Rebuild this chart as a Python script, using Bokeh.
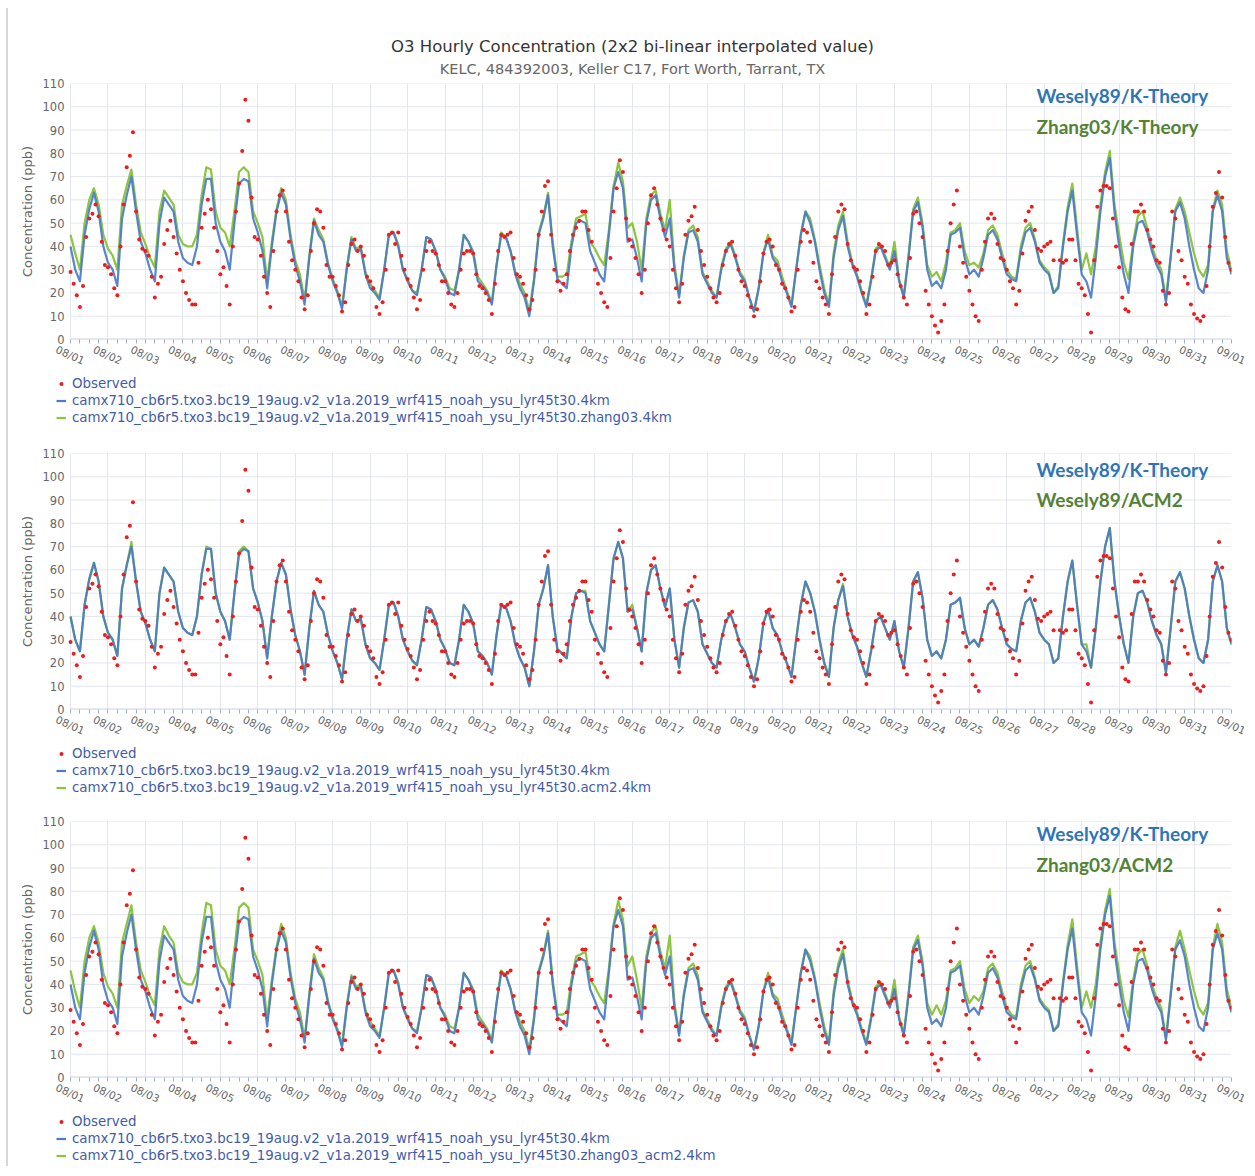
from bokeh.plotting import figure
from bokeh.models import Range1d, FixedTicker, Legend, LegendItem, Label
from bokeh.layouts import column
from bokeh.embed import file_html
from bokeh.resources import INLINE

NAN = float("nan")

TITLE = "O3 Hourly Concentration (2x2 bi-linear interpolated value)"
SUBTITLE = "KELC, 484392003, Keller C17, Fort Worth, Tarrant, TX"
Y_TITLE = "Concentration (ppb)"

DATE_LABELS = ["08/01", "08/02", "08/03", "08/04", "08/05", "08/06", "08/07", "08/08",
               "08/09", "08/10", "08/11", "08/12", "08/13", "08/14", "08/15", "08/16",
               "08/17", "08/18", "08/19", "08/20", "08/21", "08/22", "08/23", "08/24",
               "08/25", "08/26", "08/27", "08/28", "08/29", "08/30", "08/31", "09/01"]
Y_TICKS = [0, 10, 20, 30, 40, 50, 60, 70, 80, 90, 100, 110]

MODEL_STEP_HOURS = 3
OBS_STEP_HOURS = 2

# Wesely89 / K-Theory (base run), every 3 hours from 08/01 00h
WES_KT = [
    40, 30, 25, 45, 56, 63, 55, 40,
    33, 30, 23, 52, 62, 70, 55, 42,
    37, 30, 25, 50, 61, 58, 55, 42,
    35, 33, 32, 40, 58, 69, 69, 50,
    42, 38, 30, 50, 67, 69, 68, 52,
    46, 38, 22, 40, 55, 63, 58, 43,
    32, 25, 15, 35, 51, 45, 42, 32,
    25, 20, 13, 30, 43, 38, 39, 28,
    22, 20, 17, 30, 45, 46, 40, 30,
    25, 21, 19, 30, 44, 43, 38, 30,
    26, 20, 19, 30, 45, 42, 37, 25,
    23, 20, 15, 32, 45, 44, 38, 28,
    22, 18, 10, 25, 45, 52, 62, 40,
    26, 24, 22, 40, 50, 51, 50, 38,
    33, 28, 25, 45, 65, 72, 65, 42,
    43, 35, 25, 50, 60, 62, 52, 44,
    52, 30, 18, 35, 46, 47, 42, 28,
    24, 20, 18, 30, 38, 41, 35, 28,
    25, 18, 12, 22, 37, 43, 35, 32,
    25, 20, 14, 30, 45, 55, 50, 42,
    30, 20, 14, 35, 47, 53, 40, 32,
    27, 20, 14, 25, 38, 40, 35, 30,
    38, 25, 18, 35, 55, 59, 48, 30,
    23, 25, 22, 30, 45, 46, 48, 35,
    28, 30, 27, 35, 45, 47, 43, 35,
    28, 26, 25, 38, 46, 48, 42, 33,
    30, 28, 20, 22, 40, 55, 64, 45,
    28, 25, 18, 35, 55, 70, 78, 55,
    40, 28, 20, 40, 50, 51, 46, 38,
    32, 28, 16, 35, 55, 59, 52, 40,
    30, 22, 20, 30, 55, 62, 55, 35,
    28,
]

# Zhang03 / K-Theory
ZHANG03_KT = [
    45, 37, 30, 50, 60, 65, 58, 45,
    39, 36, 30, 58, 66, 73, 58, 46,
    41, 35, 31, 55, 64, 61, 58, 45,
    41, 40, 40, 45, 62, 74, 73, 55,
    48, 46, 40, 55, 72, 74, 72, 55,
    50, 44, 25, 42, 56, 65, 60, 45,
    34, 28, 17, 36, 52, 47, 43, 33,
    26, 21, 14, 31, 44, 39, 40, 29,
    24, 21, 18, 30, 45, 46, 41, 30,
    26, 21, 20, 30, 44, 43, 38, 30,
    27, 22, 21, 30, 45, 42, 38, 27,
    24, 21, 16, 32, 46, 44, 38, 29,
    24, 20, 12, 26, 46, 53, 63, 42,
    27, 27, 28, 42, 52, 53, 54, 42,
    39, 35, 32, 47, 66, 76, 68, 48,
    50, 42, 30, 52, 62, 64, 54, 47,
    60, 32, 19, 36, 47, 49, 44, 29,
    25, 21, 18, 31, 39, 42, 36, 29,
    26, 18, 12, 22, 37, 45, 36, 34,
    27, 21, 15, 30, 45, 55, 52, 43,
    32, 22, 15, 37, 49, 55, 42, 33,
    28, 21, 15, 26, 39, 41, 36, 31,
    42, 26, 19, 36, 56, 61, 50, 32,
    27, 29, 25, 33, 46, 47, 50, 38,
    32, 33, 31, 37, 47, 49, 45, 37,
    30, 27, 26, 40, 48, 50, 43, 34,
    31, 29, 20, 23, 41, 57, 67, 48,
    30, 37, 28, 40, 58, 72, 81, 58,
    45, 33, 26, 42, 53, 55, 48, 40,
    34, 30, 17, 36, 56, 61, 55, 46,
    37, 30, 27, 32, 56, 64, 58, 38,
    30,
]

# Wesely89 / ACM2
WES_ACM2 = [
    40, 30, 25, 45, 56, 63, 55, 40,
    33, 30, 23, 52, 62, 72, 55, 42,
    37, 30, 25, 50, 61, 58, 55, 42,
    35, 33, 32, 40, 58, 70, 69, 50,
    42, 38, 30, 50, 68, 70, 68, 52,
    46, 38, 22, 40, 55, 63, 58, 43,
    32, 25, 15, 35, 51, 45, 42, 32,
    25, 20, 13, 30, 43, 38, 39, 28,
    22, 20, 17, 30, 45, 46, 40, 30,
    25, 21, 19, 30, 44, 43, 38, 30,
    26, 20, 19, 30, 45, 42, 37, 25,
    23, 20, 15, 32, 45, 44, 38, 28,
    22, 18, 10, 25, 45, 52, 62, 40,
    26, 24, 22, 40, 50, 51, 51, 38,
    33, 28, 25, 45, 65, 72, 65, 42,
    45, 35, 25, 50, 60, 62, 52, 44,
    52, 30, 18, 35, 46, 47, 42, 28,
    24, 20, 18, 30, 38, 41, 35, 28,
    25, 18, 12, 22, 37, 43, 35, 32,
    25, 20, 14, 30, 45, 55, 50, 42,
    30, 20, 14, 35, 47, 54, 40, 32,
    27, 20, 14, 25, 38, 40, 35, 30,
    38, 25, 18, 35, 55, 59, 48, 30,
    23, 25, 22, 30, 45, 46, 48, 35,
    28, 30, 27, 35, 45, 47, 43, 35,
    28, 26, 25, 38, 46, 48, 42, 33,
    30, 28, 20, 22, 40, 55, 64, 45,
    28, 28, 18, 35, 55, 70, 78, 55,
    40, 28, 20, 40, 50, 51, 46, 38,
    32, 28, 16, 35, 55, 59, 52, 40,
    30, 22, 20, 30, 55, 62, 55, 35,
    28,
]

# Zhang03 / ACM2
ZHANG03_ACM2 = [
    46, 37, 30, 50, 60, 65, 58, 45,
    39, 36, 30, 58, 66, 74, 58, 46,
    41, 35, 31, 55, 65, 61, 58, 45,
    41, 40, 40, 45, 62, 75, 74, 55,
    48, 46, 40, 55, 73, 75, 73, 55,
    50, 44, 25, 42, 56, 66, 60, 45,
    34, 28, 17, 36, 53, 47, 43, 33,
    26, 21, 14, 31, 44, 39, 40, 29,
    24, 21, 18, 30, 45, 46, 41, 30,
    26, 21, 20, 30, 44, 43, 38, 30,
    27, 22, 21, 30, 45, 42, 38, 27,
    24, 21, 16, 32, 46, 44, 38, 29,
    24, 20, 12, 26, 46, 53, 63, 42,
    27, 27, 28, 42, 52, 53, 54, 42,
    39, 35, 32, 47, 66, 76, 68, 48,
    52, 42, 30, 52, 62, 65, 54, 47,
    61, 32, 19, 36, 47, 49, 44, 29,
    25, 21, 18, 31, 39, 42, 36, 29,
    26, 18, 12, 22, 37, 45, 36, 34,
    27, 21, 15, 30, 45, 55, 52, 43,
    32, 22, 15, 37, 49, 55, 42, 33,
    28, 21, 15, 26, 39, 41, 36, 31,
    42, 26, 19, 36, 56, 61, 50, 32,
    27, 31, 27, 33, 46, 47, 50, 38,
    32, 35, 33, 37, 47, 49, 45, 37,
    30, 27, 26, 40, 48, 50, 43, 34,
    31, 29, 20, 23, 41, 57, 68, 48,
    30, 37, 30, 40, 58, 72, 81, 58,
    45, 33, 26, 42, 53, 55, 48, 40,
    34, 30, 17, 36, 56, 63, 55, 46,
    37, 30, 27, 32, 56, 66, 58, 38,
    30,
]

# Observed, every 2 hours from 08/01 00h
OBSERVED = [
    29, 24, 19, 14, 23, 44, 52, 54, 58, 53, 42, 32,
    31, 28, 22, 19, 40, 58, 74, 79, 89, 55, 43, 39,
    38, 36, 27, 18, 24, 27, 41, 47, 51, 44, 37, 30,
    25, 20, 17, 15, 15, 33, 48, 54, 60, 56, 48, 38,
    28, 31, 23, 15, 40, 55, 67, 81, 103, 94, 61, 44,
    43, 36, 27, 20, 14, 38, 55, 62, 64, 55, 42, 34,
    30, 25, 18, 13, 19, 38, 50, 56, 55, 48, 32, 27,
    27, 23, 19, 12, 16, 32, 41, 43, 38, 40, 36, 27,
    25, 22, 14, 11, 16, 30, 45, 46, 41, 46, 36, 30,
    26, 23, 18, 13, 17, 30, 38, 42, 38, 37, 32, 25,
    25, 20, 15, 14, 20, 30, 37, 38, 38, 37, 28, 23,
    22, 20, 17, 11, 24, 38, 45, 44, 45, 46, 35, 28,
    27, 24, 19, 13, 17, 30, 45, 55, 66, 68, 45, 30,
    25, 21, 24, 28, 38, 45, 48, 51, 55, 55, 47, 42,
    30, 24, 20, 16, 14, 35, 55, 65, 77, 72, 52, 43,
    40, 35, 28, 20, 30, 50, 62, 65, 58, 52, 47, 43,
    40, 30, 22, 16, 24, 45, 51, 53, 57, 47, 38, 32,
    27, 22, 18, 16, 20, 32, 38, 41, 42, 36, 30, 25,
    23, 19, 14, 10, 13, 25, 37, 42, 43, 40, 32, 30,
    24, 22, 18, 12, 14, 30, 42, 47, 46, 42, 33, 25,
    22, 18, 15, 11, 28, 44, 55, 58, 56, 41, 34, 31,
    30, 25, 20, 11, 15, 27, 38, 41, 40, 38, 32, 33,
    34, 28, 23, 18, 15, 35, 54, 55, 50, 44, 21, 15,
    10, 6, 3, 8, 15, 38, 50, 58, 64, 40, 33, 27,
    21, 15, 10, 8, 30, 42, 52, 54, 52, 41, 35, 34,
    30, 25, 22, 15, 21, 37, 51, 55, 57, 47, 39, 38,
    40, 41, 42, 34, NAN, 34, 33, 34, 43, 43, 34, 24,
    22, 19, 11, 3, 34, 57, 64, 66, 66, 65, 52, 40,
    31, 18, 13, 12, 41, 55, 55, 58, 55, 47, 43, 40,
    34, 33, 21, 15, 20, 55, 52, 38, 34, 27, 24, 15,
    11, 9, 8, 10, 23, 40, 57, 63, 72, 61, 44, 33,
    30,
]

OBS_LABEL = "Observed"
BASE_LABEL = "camx710_cb6r5.txo3.bc19_19aug.v2_v1a.2019_wrf415_noah_ysu_lyr45t30.4km"
GREEN_LABELS = [
    "camx710_cb6r5.txo3.bc19_19aug.v2_v1a.2019_wrf415_noah_ysu_lyr45t30.zhang03.4km",
    "camx710_cb6r5.txo3.bc19_19aug.v2_v1a.2019_wrf415_noah_ysu_lyr45t30.acm2.4km",
    "camx710_cb6r5.txo3.bc19_19aug.v2_v1a.2019_wrf415_noah_ysu_lyr45t30.zhang03_acm2.4km",
]
TAG_BLUE = "Wesely89/K-Theory"
TAG_GREEN = ["Zhang03/K-Theory", "Wesely89/ACM2", "Zhang03/ACM2"]
GREEN_SERIES = [ZHANG03_KT, WES_ACM2, ZHANG03_ACM2]

assert len(WES_KT) == len(ZHANG03_KT) == len(WES_ACM2) == len(ZHANG03_ACM2) == 249
assert len(OBSERVED) == 373

model_x = [i * MODEL_STEP_HOURS / 24 for i in range(len(WES_KT))]
obs_x = [i * OBS_STEP_HOURS / 24 for i in range(len(OBSERVED))]
n_days = len(DATE_LABELS) - 1

BLUE = "#4a7bc8"
GREEN = "#8cc63f"
RED = "#ee1c1c"
TAG_BLUE_C = "#2e75b6"
TAG_GREEN_C = "#548235"
GRID = "#e3e6ee"
AXIS_C = "#ccd6eb"
FONT = "DejaVu Sans"

# x-labels are centred under each day tick: their anchor sits LABEL_SHIFT days to the left
LABEL_SHIFT = 0.375

W = 1240
LEFT = 48
RIGHT = 17
FRAME_H = 256
AXIS_H = 36

# (top border of plot, height of the legend strip below it, tag offsets from frame top)
PANELS = [
    dict(top=6, legend_h=65, tags=(12.3, 43.3)),
    dict(top=13, legend_h=63, tags=(16.3, 46.3)),
    dict(top=13, legend_h=53, tags=(12.3, 43.3)),
]
TITLE_H = 69


def blank_figure(height):
    f = figure(width=W, height=height, x_range=Range1d(0, 1), y_range=Range1d(0, 1),
               output_backend="svg", toolbar_location=None,
               x_axis_location=None, y_axis_location=None,
               min_border_left=LEFT, min_border_right=RIGHT,
               min_border_top=0, min_border_bottom=0,
               outline_line_color=None, background_fill_color="white",
               border_fill_color="white")
    f.xgrid.visible = False
    f.ygrid.visible = False
    return f


def make_title():
    f = blank_figure(TITLE_H)
    cx = 632 - 8 - LEFT
    f.add_layout(Label(x=cx, y=TITLE_H - 38, x_units="screen", y_units="screen",
                       text=TITLE, text_font=FONT, text_font_size="16.5px",
                       text_color="#333333", text_align="center", text_baseline="middle"))
    f.add_layout(Label(x=cx, y=TITLE_H - 60, x_units="screen", y_units="screen",
                       text=SUBTITLE, text_font=FONT, text_font_size="14.5px",
                       text_color="#666666", text_align="center", text_baseline="middle"))
    return f


def make_panel(k):
    cfg = PANELS[k]
    h = cfg["top"] + FRAME_H + AXIS_H
    p = figure(width=W, height=h, x_range=Range1d(-LABEL_SHIFT, n_days), y_range=Range1d(0, 110),
               output_backend="svg", toolbar_location=None,
               min_border_left=LEFT, min_border_right=RIGHT,
               min_border_top=cfg["top"], min_border_bottom=AXIS_H,
               outline_line_color=None, background_fill_color="white",
               border_fill_color="white")

    xa = p.xaxis[0]
    xa.ticker = FixedTicker(ticks=[d - LABEL_SHIFT for d in range(len(DATE_LABELS))],
                            minor_ticks=[q / 4 for q in range(4 * n_days + 1)])
    xa.major_label_overrides = {d - LABEL_SHIFT: DATE_LABELS[d] for d in range(len(DATE_LABELS))}
    xa.major_label_orientation = -0.43
    xa.major_label_text_font = FONT
    xa.major_label_text_font_size = "10.5px"
    xa.major_label_text_color = "#666666"
    xa.major_label_standoff = 5
    xa.axis_line_color = None
    xa.major_tick_line_color = None
    xa.major_tick_out = 0
    xa.major_tick_in = 0
    xa.minor_tick_line_color = "#a3adc2"
    xa.minor_tick_out = 4
    xa.minor_tick_in = 0

    ya = p.yaxis[0]
    ya.ticker = FixedTicker(ticks=Y_TICKS)
    ya.axis_line_color = None
    ya.major_tick_line_color = None
    ya.minor_tick_line_color = None
    ya.major_tick_out = 0
    ya.major_tick_in = 0
    ya.major_label_text_font_size = "11.5px"
    ya.major_label_text_color = "#666666"
    ya.major_label_text_font = FONT
    ya.major_label_standoff = -8
    ya.axis_label = Y_TITLE
    ya.axis_label_text_font = FONT
    ya.axis_label_text_font_size = "13px"
    ya.axis_label_text_font_style = "normal"
    ya.axis_label_text_color = "#666666"
    ya.axis_label_standoff = 5

    p.xgrid.ticker = FixedTicker(ticks=list(range(len(DATE_LABELS))))
    p.xgrid.grid_line_color = GRID
    p.ygrid.grid_line_color = None
    p.segment(x0=[0] * len(Y_TICKS), x1=[n_days] * len(Y_TICKS), y0=Y_TICKS, y1=Y_TICKS,
              line_color=GRID, line_width=1)
    p.segment(x0=[0], x1=[n_days], y0=[0], y1=[0], line_color=AXIS_C, line_width=2)

    p.line(model_x, GREEN_SERIES[k], line_color=GREEN, line_width=2.2, line_join="round")
    p.line(model_x, WES_KT, line_color=BLUE, line_width=2.2, line_alpha=0.92, line_join="round")
    p.scatter(obs_x, OBSERVED, size=4, color=RED, line_color=None)

    t1, t2 = cfg["tags"]
    p.add_layout(Label(x=980, y=FRAME_H - t1, x_units="screen", y_units="screen",
                       text=TAG_BLUE, text_font="Lato", text_font_style="bold",
                       text_font_size="19px", text_color=TAG_BLUE_C,
                       text_align="left", text_baseline="middle"))
    p.add_layout(Label(x=980, y=FRAME_H - t2, x_units="screen", y_units="screen",
                       text=TAG_GREEN[k], text_font="Lato", text_font_style="bold",
                       text_font_size="19px", text_color=TAG_GREEN_C,
                       text_align="left", text_baseline="middle"))
    return p


def make_legend(k):
    cfg = PANELS[k]
    f = blank_figure(cfg["legend_h"])
    # legend-key renderers only (no visible data of their own)
    o = f.scatter([NAN], [NAN], size=4, color=RED, line_color=None)
    b = f.line([NAN, NAN], [NAN, NAN], line_color=BLUE, line_width=2.2)
    g = f.line([NAN, NAN], [NAN, NAN], line_color=GREEN, line_width=2.2)
    legend = Legend(items=[LegendItem(label=OBS_LABEL, renderers=[o]),
                           LegendItem(label=BASE_LABEL, renderers=[b]),
                           LegendItem(label=GREEN_LABELS[k], renderers=[g])],
                    location="top_left", orientation="vertical",
                    background_fill_alpha=0, border_line_alpha=0,
                    padding=0, margin=0, spacing=0,
                    glyph_width=10, glyph_height=17, label_height=17, label_standoff=6,
                    label_text_font_size="13.4px", label_text_color="#3f5ca8",
                    label_text_font=FONT)
    f.add_layout(legend)
    return f


children = [make_title()]
for k in range(3):
    children.append(make_panel(k))
    children.append(make_legend(k))

layout = column(*children, spacing=0,
                styles={"margin-left": "6px", "margin-top": "8px",
                        "border-left": "2px solid #d6d6d6"})

open("out.html", "w").write(file_html(layout, INLINE))
